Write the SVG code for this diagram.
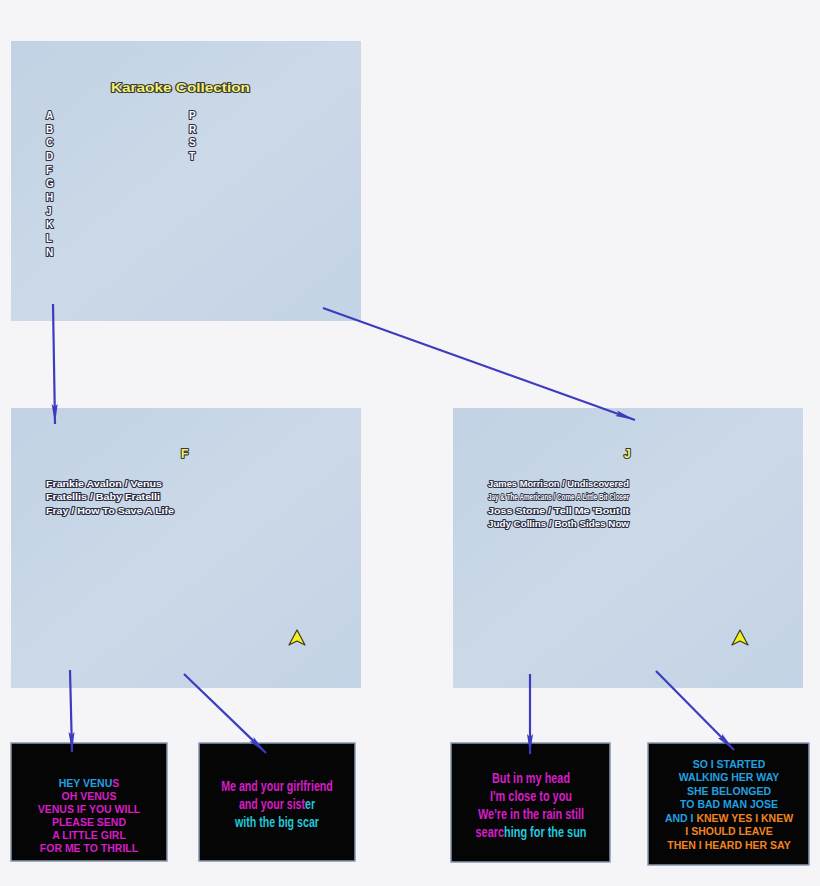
<svg xmlns="http://www.w3.org/2000/svg" width="820" height="886" viewBox="0 0 820 886">
<defs>
<linearGradient id="pg" x1="0" y1="0" x2="1" y2="1">
<stop offset="0" stop-color="#c2d2e4"/>
<stop offset="0.5" stop-color="#cbd9e8"/>
<stop offset="1" stop-color="#c4d3e5"/>
</linearGradient>
<marker id="ah" viewBox="0 0 20 8" refX="20" refY="4" markerWidth="20" markerHeight="8" markerUnits="userSpaceOnUse" orient="auto">
<path d="M0,1 L20,4 L0,7 L3,4 Z" fill="#3c3cc0"/>
</marker>
</defs>
<style>
.panel{fill:url(#pg);}
.lbl{font-family:"Liberation Sans",Arial,sans-serif;font-weight:bold;fill:#ffffff;stroke:#2a2e45;stroke-width:2.2px;paint-order:stroke;stroke-linejoin:round;}
.ttl{font-family:"Liberation Sans",Arial,sans-serif;font-weight:bold;fill:#f2f07a;stroke:#3a3a30;stroke-width:2.2px;paint-order:stroke;stroke-linejoin:round;}
.box{fill:#050505;stroke:#8898b0;stroke-width:1.5;}
.ly{font-family:"Liberation Sans",Arial,sans-serif;font-weight:bold;text-anchor:middle;}
.m{fill:#d81cc8;}
.b{fill:#22a0e0;}
.c{fill:#22c8dc;}
.o{fill:#f08424;}
.con{stroke:#3c3cc0;stroke-width:2.2;fill:none;marker-end:url(#ah);}
</style>
<rect width="820" height="886" fill="#f5f5f7"/>

<g id="top">
<rect class="panel" x="11" y="41" width="350" height="280"/>
<text class="ttl" x="111" y="92" font-size="13" textLength="139" lengthAdjust="spacingAndGlyphs">Karaoke Collection</text>
<g font-size="10">
<text class="lbl" x="46" y="119">A</text>
<text class="lbl" x="46" y="133">B</text>
<text class="lbl" x="46" y="146">C</text>
<text class="lbl" x="46" y="160">D</text>
<text class="lbl" x="46" y="174">F</text>
<text class="lbl" x="46" y="187">G</text>
<text class="lbl" x="46" y="201">H</text>
<text class="lbl" x="46" y="215">J</text>
<text class="lbl" x="46" y="228">K</text>
<text class="lbl" x="46" y="242">L</text>
<text class="lbl" x="46" y="256">N</text>
<text class="lbl" x="189" y="119">P</text>
<text class="lbl" x="189" y="133">R</text>
<text class="lbl" x="189" y="146">S</text>
<text class="lbl" x="189" y="160">T</text>
</g>
</g>

<g id="panelF">
<rect class="panel" x="11" y="408" width="350" height="280"/>
<text class="ttl" x="181" y="458" font-size="12">F</text>
<text class="lbl" x="46" y="487" font-size="9.5" textLength="116" lengthAdjust="spacingAndGlyphs">Frankie Avalon / Venus</text>
<text class="lbl" x="46" y="500" font-size="9.5" textLength="114" lengthAdjust="spacingAndGlyphs">Fratellis / Baby Fratelli</text>
<text class="lbl" x="46" y="514" font-size="9.5" textLength="128" lengthAdjust="spacingAndGlyphs">Fray / How To Save A Life</text>
<path d="M297,630 L305,645 L297,641 L289,645 Z" fill="#f2f020" stroke="#3a3a20" stroke-width="1.2" stroke-linejoin="round"/>
</g>

<g id="panelJ">
<rect class="panel" x="453" y="408" width="350" height="280"/>
<text class="ttl" x="624" y="458" font-size="12">J</text>
<text class="lbl" x="488" y="487" font-size="9.5" textLength="141" lengthAdjust="spacingAndGlyphs">James Morrison / Undiscovered</text>
<text class="lbl" x="488" y="500" font-size="9.5" textLength="141" lengthAdjust="spacingAndGlyphs">Jay &amp; The Americans / Come A Little Bit Closer</text>
<text class="lbl" x="488" y="514" font-size="9.5" textLength="141" lengthAdjust="spacingAndGlyphs">Joss Stone / Tell Me 'Bout It</text>
<text class="lbl" x="488" y="527" font-size="9.5" textLength="141" lengthAdjust="spacingAndGlyphs">Judy Collins / Both Sides Now</text>
<path d="M740,630 L748,645 L740,641 L732,645 Z" fill="#f2f020" stroke="#3a3a20" stroke-width="1.2" stroke-linejoin="round"/>
</g>

<g id="box1">
<rect class="box" x="11" y="743" width="156" height="118"/>
<g class="ly" font-size="10.5">
<text x="89" y="787"><tspan class="b">HEY VENU</tspan><tspan class="m">S</tspan></text>
<text class="m" x="89" y="800">OH VENUS</text>
<text class="m" x="89" y="813">VENUS IF YOU WILL</text>
<text class="m" x="89" y="826">PLEASE SEND</text>
<text class="m" x="89" y="839">A LITTLE GIRL</text>
<text class="m" x="89" y="852">FOR ME TO THRILL</text>
</g>
</g>

<g id="box2">
<rect class="box" x="199" y="743" width="156" height="118"/>
<g class="ly" font-size="14" transform="translate(277,0) scale(0.76,1)">
<text class="m" x="0" y="791">Me and your girlfriend</text>
<text x="0" y="809"><tspan class="m">and your sist</tspan><tspan class="c">er</tspan></text>
<text class="c" x="0" y="827">with the big scar</text>
</g>
</g>

<g id="box3">
<rect class="box" x="451" y="743" width="159" height="119"/>
<g class="ly" font-size="14" transform="translate(531,0) scale(0.78,1)">
<text class="m" x="0" y="783">But in my head</text>
<text class="m" x="0" y="801">I'm close to you</text>
<text class="m" x="0" y="819">We're in the rain still</text>
<text x="0" y="837"><tspan class="m">searc</tspan><tspan class="c">hing for the sun</tspan></text>
</g>
</g>

<g id="box4">
<rect class="box" x="648" y="743" width="161" height="122"/>
<g class="ly" font-size="10.5">
<text class="b" x="729" y="768">SO I STARTED</text>
<text class="b" x="729" y="781">WALKING HER WAY</text>
<text class="b" x="729" y="795">SHE BELONGED</text>
<text class="b" x="729" y="808">TO BAD MAN JOSE</text>
<text x="729" y="822"><tspan class="b">AND I </tspan><tspan class="o">KNEW YES I KNEW</tspan></text>
<text class="o" x="729" y="835">I SHOULD LEAVE</text>
<text class="o" x="729" y="849">THEN I HEARD HER SAY</text>
</g>
</g>

<g id="connectors">
<line class="con" x1="53" y1="304" x2="55" y2="424"/>
<line class="con" x1="323" y1="308" x2="635" y2="420"/>
<line class="con" x1="70" y1="670" x2="72" y2="752"/>
<line class="con" x1="184" y1="674" x2="266" y2="753"/>
<line class="con" x1="530" y1="674" x2="530" y2="754"/>
<line class="con" x1="656" y1="671" x2="734" y2="750"/>
</g>
</svg>
